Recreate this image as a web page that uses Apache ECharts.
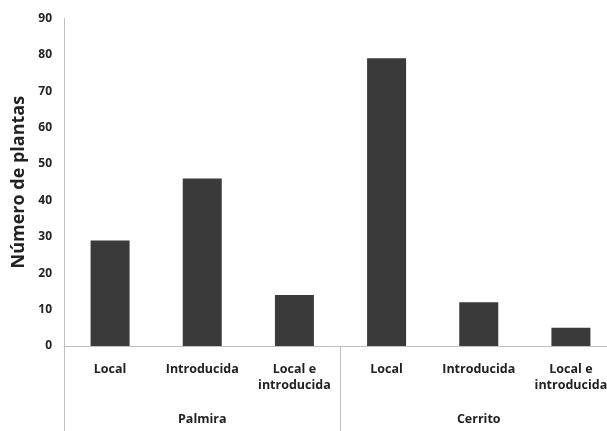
<!DOCTYPE html>
<html>
<head>
<meta charset="utf-8">
<script src="https://cdn.jsdelivr.net/npm/echarts@6/dist/echarts.min.js"></script>
<style>html,body{margin:0;padding:0;background:#fff}#c{width:607px;height:431px}</style>
</head>
<body>
<div id="c"></div>
<script>
const categories = ['Local', 'Introducida', 'Local e\nintroducida', 'Local', 'Introducida', 'Local e\nintroducida'];
const groups = ['Palmira', 'Cerrito'];
const values = [29, 46, 14, 79, 12, 5];
const yTicks = { min: 0, max: 90, interval: 10 };
const yTitle = 'Número de plantas';

const font = '"Open Sans", "Liberation Sans", sans-serif';
const chart = echarts.init(document.getElementById('c'));
chart.setOption({
  animation: false,
  backgroundColor: '#fff',
  grid: { left: 64, top: 18.3, right: -10, bottom: 85, containLabel: false, outerBoundsMode: 'none' },
  xAxis: [
    {
      type: 'category',
      data: categories,
      axisLine: { show: true, lineStyle: { color: '#bfbfbf', width: 1 } },
      axisTick: { show: false },
      axisLabel: { interval: 0, color: '#222', fontFamily: font, fontWeight: 'bold', fontSize: 12.5, lineHeight: 16, margin: 15 }
    },
    {
      type: 'category',
      data: groups,
      position: 'bottom',
      axisLine: { show: false },
      axisTick: { show: true, length: 86, interval: 0, lineStyle: { color: '#bfbfbf', width: 1 } },
      axisLabel: { interval: 0, color: '#222', fontFamily: font, fontWeight: 'bold', fontSize: 12.5, margin: 67 }
    }
  ],
  yAxis: {
    type: 'value',
    min: yTicks.min, max: yTicks.max, interval: yTicks.interval,
    name: yTitle,
    nameLocation: 'middle',
    nameGap: 33,
    nameTextStyle: { color: '#222', fontFamily: font, fontWeight: 'bold', fontSize: 18 },
    axisLine: { show: true, lineStyle: { color: '#bfbfbf', width: 1 } },
    axisTick: { show: false },
    splitLine: { show: false },
    axisLabel: { color: '#222', fontFamily: font, fontWeight: 'bold', fontSize: 12, margin: 12 }
  },
  series: [{
    type: 'bar',
    data: values,
    xAxisIndex: 0,
    barWidth: 39,
    itemStyle: { color: '#3a3a3a' }
  }]
});
</script>
</body>
</html>
